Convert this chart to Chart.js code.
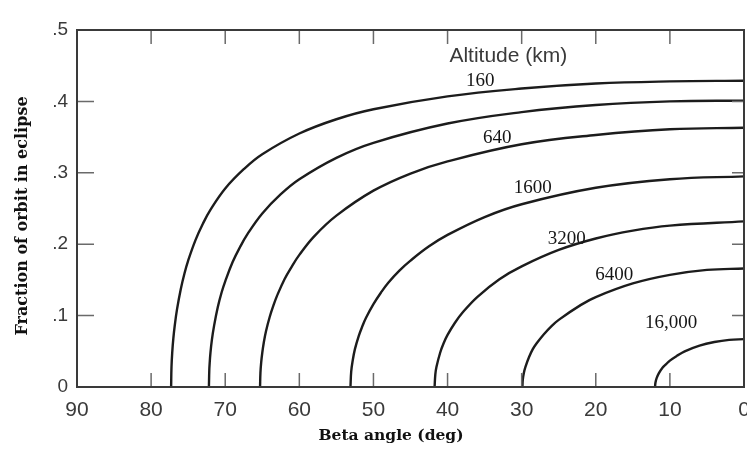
<!DOCTYPE html>
<html>
<head>
<meta charset="utf-8">
<script src="https://cdn.jsdelivr.net/npm/chart.js@4.4.1/dist/chart.umd.min.js"></script>
<style>
	html, body { margin: 0; padding: 0; background: #fff; }
	#wrap { width: 747px; height: 453px; }
</style>
</head>
<body>
<div id="wrap"><canvas id="eclipseChart" width="747" height="453"></canvas></div>
<script>
// beta angle (deg) and fraction of orbit in eclipse, one pair of arrays per altitude curve
const beta160 = [77.3, 77.25, 77.15, 77, 76.8, 76.5, 76, 75.5, 75, 74, 73, 72, 70, 67.5, 65, 60, 55, 50, 40, 30, 20, 10, 0];
const frac160 = [0, 0.028, 0.0485, 0.068, 0.087, 0.109, 0.137, 0.159, 0.177, 0.206, 0.229, 0.248, 0.278, 0.305, 0.326, 0.355, 0.375, 0.389, 0.407, 0.418, 0.425, 0.428, 0.429];

const beta320 = [72.2, 72.15, 72.1, 72, 71.8, 71.5, 71, 70.5, 70, 69, 68, 67, 65, 62.5, 60, 55, 50, 40, 30, 20, 10, 0];
const frac320 = [0, 0.0235, 0.033, 0.047, 0.066, 0.086, 0.112, 0.132, 0.148, 0.175, 0.196, 0.214, 0.243, 0.270, 0.291, 0.321, 0.342, 0.369, 0.385, 0.395, 0.400, 0.401];

const beta640 = [65.3, 65.25, 65.15, 65, 64.8, 64.5, 64, 63.5, 63, 62, 61, 60, 58, 55, 50, 45, 40, 30, 20, 10, 0];
const frac640 = [0, 0.0196, 0.034, 0.048, 0.062, 0.078, 0.098, 0.114, 0.128, 0.151, 0.169, 0.185, 0.211, 0.240, 0.275, 0.299, 0.316, 0.340, 0.353, 0.361, 0.363];

const beta1600 = [53.1, 53.0, 52.8, 52.5, 52, 51.5, 51, 50, 49, 48, 46.5, 45, 42.5, 40, 35, 30, 20, 10, 0];
const frac1600 = [0, 0.0217, 0.037, 0.053, 0.071, 0.085, 0.097, 0.116, 0.132, 0.146, 0.163, 0.177, 0.197, 0.213, 0.238, 0.256, 0.279, 0.291, 0.295];

const beta3200 = [41.75, 41.65, 41.5, 41, 40.5, 40, 39, 38, 36, 33, 30, 25, 20, 15, 10, 0];
const frac3200 = [0, 0.0178, 0.028, 0.048, 0.062, 0.073, 0.090, 0.104, 0.126, 0.151, 0.169, 0.192, 0.208, 0.219, 0.226, 0.232];

const beta6400 = [29.9, 29.85, 29.7, 29.5, 29, 28.5, 28, 27, 26, 25, 22, 20, 15, 10, 5, 0];
const frac6400 = [0, 0.0101, 0.020, 0.028, 0.042, 0.053, 0.061, 0.074, 0.085, 0.094, 0.115, 0.126, 0.145, 0.157, 0.164, 0.166];

const beta16000 = [12, 11.95, 11.8, 11.5, 11, 10.5, 10, 9, 8, 6, 4, 2, 0];
const frac16000 = [0, 0.006, 0.012, 0.019, 0.027, 0.032, 0.037, 0.044, 0.050, 0.058, 0.063, 0.066, 0.067];

// curve labels as printed in the figure, anchored in data units
const curveLabels = ["160", "640", "1600", "3200", "6400", "16,000"];
const curveLabelBeta = [35.6, 33.3, 28.5, 23.9, 17.5, 9.85];
const curveLabelFrac = [0.429, 0.349, 0.279, 0.207, 0.157, 0.089];

const legendTitle = "Altitude (km)";
const legendTitleBeta = 31.8;
const legendTitleFrac = 0.463;

function toPoints(betas, fracs) {
	const pts = [];
	for (let i = 0; i < betas.length; i++) {
		pts.push({ x: betas[i], y: fracs[i] });
	}
	return pts;
}

function curve(label, betas, fracs) {
	return {
		label: label,
		data: toPoints(betas, fracs),
		showLine: true,
		borderColor: "#1c1c1c",
		borderWidth: 2.4,
		pointRadius: 0,
		tension: 0.4,
		fill: false
	};
}

// inward ticks, plot frame, curve labels and the axis titles
const figureDecor = {
	id: "figureDecor",
	afterDatasetsDraw(chart) {
		const { ctx, chartArea: area, scales: { x, y } } = chart;
		ctx.save();

		ctx.strokeStyle = "#6a6a6a";
		ctx.lineWidth = 1.5;
		ctx.beginPath();
		for (const t of x.ticks) {
			if (t.value <= 0 || t.value >= 90) continue;
			const px = x.getPixelForValue(t.value);
			ctx.moveTo(px, area.bottom);
			ctx.lineTo(px, area.bottom - 14);
			ctx.moveTo(px, area.top);
			ctx.lineTo(px, area.top + 14);
		}
		for (const t of y.ticks) {
			if (t.value <= 0 || t.value >= 0.499) continue;
			const py = y.getPixelForValue(t.value);
			ctx.moveTo(area.left, py);
			ctx.lineTo(area.left + 17, py);
			ctx.moveTo(area.right, py);
			ctx.lineTo(area.right - 12, py);
		}
		ctx.stroke();

		ctx.strokeStyle = "#3a3a3a";
		ctx.lineWidth = 2;
		ctx.strokeRect(area.left, area.top, area.right - area.left, area.bottom - area.top);

		ctx.textAlign = "center";
		ctx.textBaseline = "middle";
		ctx.fillStyle = "#151515";
		ctx.font = '19px "Liberation Serif"';
		for (let i = 0; i < curveLabels.length; i++) {
			ctx.fillText(curveLabels[i], x.getPixelForValue(curveLabelBeta[i]), y.getPixelForValue(curveLabelFrac[i]));
		}

		ctx.fillStyle = "#3a3a3a";
		ctx.font = '21px "Liberation Sans"';
		ctx.fillText(legendTitle, x.getPixelForValue(legendTitleBeta), y.getPixelForValue(legendTitleFrac));

		// axis titles
		ctx.fillStyle = "#111";
		ctx.font = 'bold 15.5px "DejaVu Serif"';
		ctx.fillText("Beta angle (deg)", 391, 436);
		ctx.translate(23, 216);
		ctx.rotate(-Math.PI / 2);
		ctx.font = 'bold 16px "DejaVu Serif"';
		ctx.fillText("Fraction of orbit in eclipse", 0, 0);

		ctx.restore();
	}
};

const ctx = document.getElementById("eclipseChart");
const eclipseChart = new Chart(ctx, {
	type: "scatter",
	data: {
		datasets: [
			curve("160", beta160, frac160),
			curve("320", beta320, frac320),
			curve("640", beta640, frac640),
			curve("1600", beta1600, frac1600),
			curve("3200", beta3200, frac3200),
			curve("6400", beta6400, frac6400),
			curve("16,000", beta16000, frac16000)
		]
	},
	options: {
		responsive: false,
		animation: false,
		devicePixelRatio: 1,
		layout: {
			padding: { top: 30, right: 3, left: 0, bottom: 0 }
		},
		plugins: {
			legend: { display: false },
			tooltip: { enabled: false }
		},
		scales: {
			x: {
				type: "linear",
				reverse: true,
				min: 0,
				max: 90,
				grid: { display: false, drawTicks: false },
				border: { display: false },
				ticks: {
					stepSize: 10,
					padding: 11,
					color: "#3a3a3a",
					font: { family: "Liberation Sans", size: 21 }
				},
				afterFit(scale) {
					scale.height = 66;
					scale.paddingLeft = 0;
					scale.paddingRight = 0;
				}
			},
			y: {
				type: "linear",
				min: 0,
				max: 0.5,
				grid: { display: false, drawTicks: false },
				border: { display: false },
				ticks: {
					stepSize: 0.1,
					padding: 9,
					color: "#3a3a3a",
					font: { family: "Liberation Sans", size: 19 },
					callback: (v) => v === 0 ? "0" : "." + Math.round(v * 10)
				},
				afterFit(scale) {
					scale.width = 77;
					scale.paddingTop = 0;
					scale.paddingBottom = 0;
				}
			}
		}
	},
	plugins: [figureDecor]
});
</script>
</body>
</html>
